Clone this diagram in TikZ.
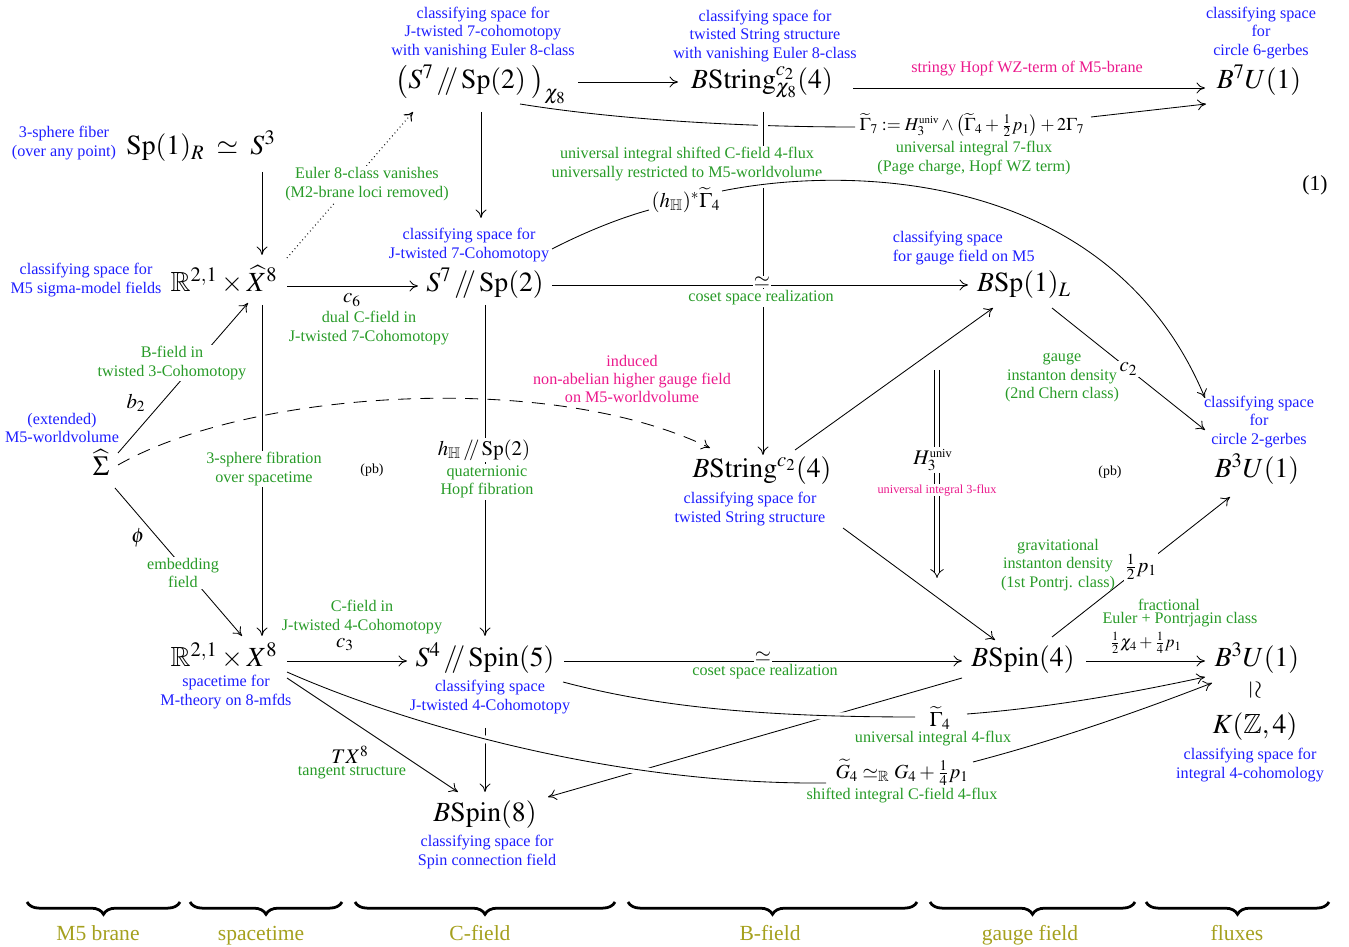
\RequirePackage{fix-cm}
\documentclass[tikz,border=0pt]{standalone}
\usepackage{amsmath,amssymb}
\usepackage{mathptmx}
\usepackage{graphicx}
\usepackage{fontspec}
\setmainfont{Liberation Serif}
\usetikzlibrary{arrows.meta,decorations.pathreplacing,calc}
\definecolor{cblue}{RGB}{30,30,255}
\definecolor{cgreen}{RGB}{40,155,40}
\definecolor{cpink}{RGB}{235,25,140}
\definecolor{colive}{RGB}{165,160,30}
\newcommand{\dsl}{\,/\!\!/\,}
\tikzset{
  big/.style={font=\fontsize{18}{20}\selectfont, inner sep=2pt, text height=13pt, text depth=4pt},
  lb/.style={text=cblue, font=\fontsize{10.5}{12}\selectfont, align=center, inner sep=1pt},
  lg/.style={text=cgreen, font=\fontsize{10.5}{12}\selectfont, align=center, inner sep=1pt},
  lp/.style={text=cpink, font=\fontsize{10.5}{12}\selectfont, align=center, inner sep=1pt},
  ml/.style={font=\fontsize{13.5}{15}\selectfont, inner sep=1pt},
  wf/.style={fill=white},
  ar/.style={line width=0.55pt, -{Computer Modern Rightarrow[length=5.5pt,width=7pt]}},
  ln/.style={line width=0.55pt},
  over/.style={preaction={draw=white, line width=5pt, -, shorten <=4pt, shorten >=4pt}},
  overv/.style={preaction={draw=white, line width=7pt, -, shorten <=4pt, shorten >=4pt}},
  br/.style={decorate, decoration={brace, mirror, amplitude=8pt}, line width=1.8pt},
  brl/.style={text=colive, font=\fontsize{14}{16}\selectfont, anchor=base},
}
\begin{document}
\begin{tikzpicture}[x=0.65pt,y=-0.65pt]
\useasboundingbox (0,0) rectangle (1349,947);

% ---------------- main objects
\node[big] (SR) at (201,148) {$\mathrm{Sp}(1)_R\;\simeq\;S^3$};
\node[big] (XH) at (224,285) {$\mathbb{R}^{2,1}\times\widehat{X}^8$};
\node[big] (S7x) at (481,82) {$\big(S^7\dsl\mathrm{Sp}(2)\;\big)_{\chi_8}$};
\node[big] (BSx) at (762,82) {$B\mathrm{String}^{c_2}_{\chi_8}(4)$};
\node[big] (B7) at (1259,82) {$B^7U(1)$};
\node[big] (S7) at (485,285) {$S^7\dsl\mathrm{Sp}(2)$};
\node[big] (BSpL) at (1024,285) {$B\mathrm{Sp}(1)_L$};
\node[big] (Sig) at (101,469) {$\widehat{\Sigma}$};
\node[big] (BStr) at (762,471) {$B\mathrm{String}^{c_2}(4)$};
\node[big] (B3a) at (1257,471) {$B^3U(1)$};
\node[big] (X8) at (224,660) {$\mathbb{R}^{2,1}\times X^8$};
\node[big] (S4) at (485,660) {$S^4\dsl\mathrm{Spin}(5)$};
\node[big] (BSp4) at (1023,660) {$B\mathrm{Spin}(4)$};
\node[big] (B3b) at (1257,660) {$B^3U(1)$};
\node[font=\fontsize{16}{18}\selectfont, inner sep=0pt] (wr) at (1255,690) {\rotatebox{-90}{$\simeq$}};
\node[big] (KZ) at (1255,727) {$K(\mathbb{Z},4)$};
\node[big] (BSp8) at (485,815) {$B\mathrm{Spin}(8)$};

% ---------------- top row
\draw[ar] ($(S7x)+(97,0)$) -- ($(BSx)+(-84,0)$);
\draw[ar] ($(BSx)+(91,6)$) -- ($(B7)+(-54,6)$);
\node[font=\fontsize{11.7}{14}\selectfont, inner sep=1pt] (G7) at (972,125)
  {$\widetilde{\Gamma}_7:=H_3^{\text{\fontsize{7}{8}\selectfont univ}}\wedge\big(\widetilde{\Gamma}_4+\tfrac{1}{2}p_1\big)+2\Gamma_7$};
\draw[ln] ($(S7x)+(39,22)$) .. controls (600,117) and (720,127) .. ($(G7)+(-117,2)$);
\draw[ar] ($(G7)+(119,-8)$) -- ($(B7)+(-53,22)$);

% vertical BString_chi8 -> BString
\draw[ar, overv] ($(BSx)+(1,30)$) -- ($(BStr)+(1,-16)$);

% left column
\draw[ar] ($(SR)+(61,24)$) -- ($(XH)+(38,-30)$);
\draw[ar] ($(XH)+(63,1)$) -- ($(S7)+(-67,1)$);
\draw[ar, dotted, line width=0.7pt] ($(XH)+(63,-27)$) -- ($(S7x)+(-68,30)$);
\node[lb] (S7l) at (469,245) {classifying space for\\J-twisted 7-Cohomotopy};
\draw[ar] ($(S7x)+(0,30)$) -- ($(S7l)+(12,-27)$);

% Sigma arrows
\draw[ar] ($(Sig)+(17,-16)$) -- ($(XH)+(24,18)$);
\draw[ar] ($(Sig)+(14,19)$) -- ($(X8)+(18,-24)$);
\draw[ar, dash pattern=on 8.5pt off 6pt] ($(Sig)+(17,-4)$) .. controls (250,390) and (550,370) .. ($(BStr)+(-52,-23)$);

% verticals
\draw[ar] ($(XH)+(38,20)$) -- ($(X8)+(38,-24)$);
\draw[ar] ($(S7)+(0,20)$) -- ($(S4)+(0,-24)$);

% BString arrows
\draw[ar] ($(BStr)+(33,-21)$) -- ($(BSpL)+(-31,23)$);
\node[lb] (BStrl) at (750,509) {classifying space for\\twisted String structure};
\draw[ar] ($(BStr)+(81,57)$) -- ($(BSp4)+(-28,-20)$);

% double arrow
\draw[double, double distance=2.6pt, line width=0.5pt, -{Implies[length=6pt]}]
  ($(BSpL)+(-87,85)$) -- ($(BSp4)+(-86,-82)$);

% right side
\draw[ar] ($(BSpL)+(28,23)$) -- node[ml, wf, pos=0.5] (c2) {$c_2$} ($(B3a)+(-52,-41)$);
\draw[ar] ($(BSp4)+(29,-23)$) -- node[ml, wf, pos=0.5] (hp1) {$\tfrac{1}{2}p_1$} ($(B3a)+(-27,26)$);

% bottom row
\draw[ar] ($(X8)+(63,1)$) -- ($(S4)+(-78,1)$);
\draw[ar] ($(S4)+(79,1)$) -- ($(BSp4)+(-61,1)$);
\draw[ar] ($(BSp4)+(63,1)$) -- ($(B3b)+(-52,1)$);
\draw[ar] ($(BSp4)+(-61,18)$) -- ($(BSp8)+(63,-18)$);
\node[lb] (S4l) at (490,697) {classifying space\\J-twisted 4-Cohomotopy};
\draw[ar] ($(S4l)+(-5,31)$) -- ($(BSp8)+(0,-23)$);

% Gamma4 curve
\node[ml] (G4t) at (940,718) {$\widetilde{\Gamma}_4$};
\draw[ln, over] ($(S4)+(78,22)$) .. controls (650,705) and (750,717) .. ($(G4t)+(-25,-1)$);
\draw[ar, over] ($(G4t)+(27,-4)$) .. controls (1046,708) and (1126,694) .. ($(B3b)+(-52,17)$);

% G4 curve
\node[font=\fontsize{13}{15}\selectfont, inner sep=1pt] (G4) at (902,772) {$\widetilde{G}_4\simeq_{\mathbb{R}}G_4+\tfrac{1}{4}p_1$};
\draw[ln, over] ($(X8)+(63,12)$) .. controls (400,722) and (610,785) .. ($(G4)+(-76,11)$);
\draw[ar, over] ($(G4)+(71,-10)$) .. controls (1053,741) and (1132,714) .. ($(B3b)+(-45,23)$);
\draw[ar] ($(X8)+(63,18)$) -- ($(BSp8)+(-27,-23)$);

% white-filled labels on lines
\node[lg, wf] (eul) at (367,184) {Euler 8-class vanishes\\(M2-brane loci removed)};
\node[lg, wf] (bfl) at (172,363) {B-field in\\twisted 3-Cohomotopy};
\node[lg, wf] (embl) at (183,573) {embedding\\field};
\node[lg, wf] (fibl) at (264,469) {3-sphere fibration\\over spacetime};
\node[ml, wf] (hS) at (484,450) {$h_{\mathbb{H}}\dsl\mathrm{Sp}(2)$};
\node[lg, wf] (hSl) at (487,482) {quaternionic\\Hopf fibration};
\node[ml, wf] (H3) at (933,460) {$H_3^{\text{\fontsize{8}{9}\selectfont univ}}$};
\node[lp, wf, font=\fontsize{8}{9}\selectfont, inner sep=0.5pt] (H3l) at (937,490) {universal integral 3-flux};
\node[lg, wf] (ushl) at (687,164) {universal integral shifted C-field 4-flux\\universally restricted to M5-worldvolume};

% (h_H)^* Gamma4 curve
\node[ml] (hG) at (686,200) {$(h_{\mathbb{H}})^*\widetilde{\Gamma}_4$};
\draw[ln] ($(S7l)+(83,4)$) .. controls (585,232) and (620,218) .. ($(hG)+(-37,10)$);
\draw[ar, over] ($(hG)+(36,-9)$) .. controls (850,165) and (1110,170) .. ($(B3a)+(-52,-73)$);

% coset middle
\draw[ar] ($(S7)+(67,0)$) -- ($(BSpL)+(-56,0)$);
\node[ml, wf, inner sep=0.5pt] (eq1) at (762,282) {$\simeq$};
\node[lg, wf] (cos1) at (761,298) {coset space realization};
\node[ml, wf, inner sep=0.5pt] (eq2) at (763,657) {$\simeq$};
\node[lg, wf] (cos2) at (765,672) {coset space realization};

% ---------------- plain labels
\node[lb] (SRl) at (64,143) {3-sphere fiber\\(over any point)};
\node[lb] (XHl) at (86,280) {classifying space for\\M5 sigma-model fields};
\node[lb] (S7xl) at (483,33) {classifying space for\\J-twisted 7-cohomotopy\\with vanishing Euler 8-class};
\node[lb] (BSxl) at (765,36) {classifying space for\\twisted String structure\\with vanishing Euler 8-class};
\node[lb] (B7l) at (1261,33) {classifying space\\for\\circle 6-gerbes};
\node[lb, align=left, anchor=west] (BSpLl) at (891,248) {classifying space\\for gauge field on M5};
\node[lb] (Sigl) at (62,428) {(extended)\\M5-worldvolume};
\node[lb] (B3al) at (1259,422) {classifying space\\for\\circle 2-gerbes};
\node[lb] (X8l) at (226,692) {spacetime for\\M-theory on 8-mfds};
\node[lb] (KZl) at (1250,765) {classifying space for\\integral 4-cohomology};
\node[lb] (BSp8l) at (487,852) {classifying space for\\Spin connection field};

\node[lp] (wz) at (1027,69) {stringy Hopf WZ-term of M5-brane};
\node[lg] (G7l) at (974,158) {universal integral 7-flux\\(Page charge, Hopf WZ term)};
\node[ml] (c6) at (352,300) {$c_6$};
\node[lg] (c6l) at (369,328) {dual C-field in\\J-twisted 7-Cohomotopy};
\node[ml] (b2) at (136,403) {$b_2$};
\node[ml] (phi) at (138,538) {$\phi$};
\node[lp] (indl) at (632,379) {induced\\non-abelian higher gauge field\\on M5-worldvolume};
\node[lg] (gaul) at (1062,378) {gauge\\instanton density\\(2nd Chern class)};
\node[lg] (gravl) at (1058,565) {gravitational\\instanton density\\(1st Pontrj. class)};
\node[ml] (c3) at (345,645) {$c_3$};
\node[lg] (c3l) at (362,617) {C-field in\\J-twisted 4-Cohomotopy};
\node[font=\fontsize{11}{13}\selectfont, inner sep=0.5pt] (chi) at (1146,643) {$\tfrac{1}{2}\chi_4+\tfrac{1}{4}p_1$};
\node[lg, inner sep=0pt] (fracl) at (1169,605) {fractional};
\node[lg, inner sep=0pt] (eul2) at (1180,620) {Euler + Pontrjagin class};
\node[lg] (G4tl) at (933,739) {universal integral 4-flux};
\node[lg] (G4l) at (902,796) {shifted integral C-field 4-flux};
\node[ml] (TX) at (350,755) {$TX^8$};
\node[lg] (TXl) at (352,773) {tangent structure};
\node[font=\fontsize{14}{16}\selectfont] (eqn) at (1315,185) {(1)};
\node[font=\fontsize{9}{10}\selectfont] (pb1) at (372,470) {(pb)};
\node[font=\fontsize{9}{10}\selectfont] (pb2) at (1110,472) {(pb)};

% ---------------- braces
\draw[br] (27,902) -- (180,902);
\draw[br] (190,902) -- (342,902);
\draw[br] (355,902) -- (615,902);
\draw[br] (628,902) -- (917,902);
\draw[br] (930,902) -- (1135,902);
\draw[br] (1146,902) -- (1329,902);
\node[brl] (bM5) at (98,941) {M5 brane};
\node[brl] (bST) at (261,941) {spacetime};
\node[brl] (bC) at (480,941) {C-field};
\node[brl] (bB) at (770,941) {B-field};
\node[brl] (bG) at (1030,941) {gauge field};
\node[brl] (bF) at (1237,941) {fluxes};
\end{tikzpicture}
\end{document}
